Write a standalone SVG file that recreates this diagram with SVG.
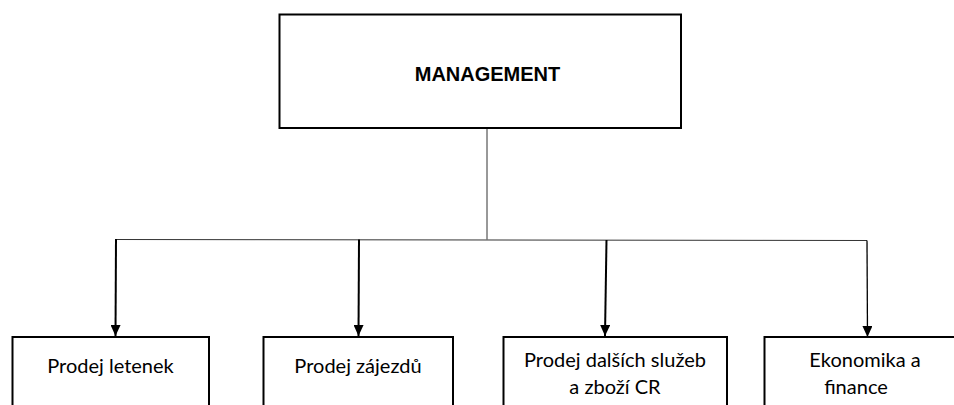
<svg xmlns="http://www.w3.org/2000/svg" width="954" height="405" viewBox="0 0 954 405">
<style>
.box{fill:#fff;stroke:#000;stroke-width:2}
.lbl{font-family:Lato,"Liberation Sans",sans-serif;font-size:20px;fill:#000;text-anchor:middle}
.title{font-family:"Liberation Sans",Arial,sans-serif;font-size:20px;font-weight:bold;fill:#000;text-anchor:middle}
.thin{fill:none;stroke:#333;stroke-width:1}
.arr{fill:none;stroke:#000;stroke-width:2}
.arr1{fill:none;stroke:#000;stroke-width:1.3}
</style>
<defs>
<marker id="ah" markerUnits="userSpaceOnUse" markerWidth="12" markerHeight="10" refX="11" refY="5" orient="auto">
<path d="M0,0 L11,5 L0,10 Z" fill="#000"/>
</marker>
</defs>
<rect width="954" height="405" fill="#fff"/>
<g id="connectors">
<line class="thin" x1="487" y1="128" x2="487" y2="239.5"/>
<line class="thin" x1="116" y1="239.5" x2="867" y2="240.5"/>
<line class="arr" x1="116" y1="239" x2="115.5" y2="336" marker-end="url(#ah)"/>
<line class="arr" x1="359" y1="239.5" x2="358.5" y2="336" marker-end="url(#ah)"/>
<line class="arr" x1="606.5" y1="240" x2="605" y2="336" marker-end="url(#ah)"/>
<line class="arr1" x1="867" y1="240.5" x2="867.5" y2="337" marker-end="url(#ah)"/>
</g>
<g id="management">
<rect class="box" x="279.5" y="14.5" width="401.5" height="113.5"/>
<text class="title" x="487.5" y="80.5">MANAGEMENT</text>
</g>
<g id="prodej-letenek">
<rect class="box" x="12.5" y="337" width="196.5" height="90"/>
<text class="lbl" x="110.5" y="373">Prodej letenek</text>
</g>
<g id="prodej-zajezdu">
<rect class="box" x="263.5" y="337" width="189.5" height="90"/>
<text class="lbl" x="358" y="373">Prodej zájezdů</text>
</g>
<g id="prodej-dalsich">
<rect class="box" x="503.5" y="337" width="223.5" height="90"/>
<text class="lbl" x="615" y="367">Prodej dalších služeb</text>
<text class="lbl" x="615" y="394">a zboží CR</text>
</g>
<g id="ekonomika">
<rect class="box" x="764.5" y="337" width="220" height="90"/>
<text class="lbl" x="865" y="367">Ekonomika a</text>
<text class="lbl" x="856" y="394">finance</text>
</g>
</svg>
